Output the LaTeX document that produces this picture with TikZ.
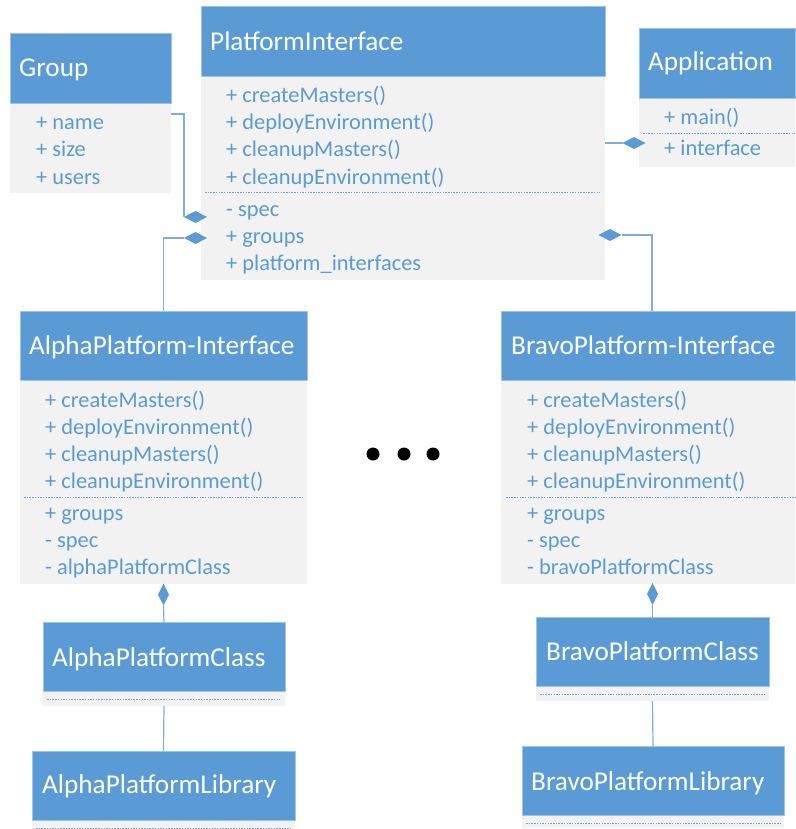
\documentclass[tikz,border=0pt]{standalone}
\usepackage{fontspec}
\setmainfont{Carlito}
\usetikzlibrary{shapes.geometric}
\definecolor{hdrblue}{HTML}{5B9BD5}
\definecolor{hdredge}{HTML}{9DC3E6}
\definecolor{bodygray}{HTML}{F2F2F2}
\definecolor{txtblue}{HTML}{5B9BD5}
\definecolor{lineblue}{HTML}{7EAEDC}
\definecolor{sepblue}{HTML}{6FA6DA}
\tikzset{
  hdr/.style={draw=hdredge, line width=0.8pt, fill=hdrblue, anchor=north west,
    inner sep=0pt, outer sep=0pt},
  bodybox/.style={fill=bodygray, anchor=north west, inner sep=0pt, outer sep=0pt},
  title/.style={anchor=base west, inner sep=0pt, text=white,
    font=\fontsize{27.2}{31}\selectfont},
  member/.style={anchor=base west, inner sep=0pt, text=txtblue,
    font=\fontsize{22.4}{27}\selectfont},
  sepline/.style={draw=sepblue, line width=0.9pt, dash pattern=on 1.5pt off 1.2pt},
  conn/.style={draw=lineblue, line width=1.2pt},
  hdia/.style={diamond, fill=hdrblue, inner sep=0pt, outer sep=0pt,
    minimum width=23pt, minimum height=12pt},
  vdia/.style={diamond, fill=hdrblue, inner sep=0pt, outer sep=0pt,
    minimum width=11pt, minimum height=22pt},
  dot/.style={circle, fill=black, inner sep=0pt, minimum size=13pt}
}
\begin{document}
\begin{tikzpicture}[x=1pt, y=-1pt]
\useasboundingbox (0,0) rectangle (795,829);

% ---------- Group ----------
\node[bodybox, minimum width=161pt, minimum height=90pt] (grpB) at (10,103) {};
\node[hdr, minimum width=161pt, minimum height=70pt] (grpH) at (10,33) {};
\node[title] (grpT) at (19,77) {Group};
\node[member] (grp1) at (36,130) {+ name};
\node[member] (grp2) at (36,157) {+ size};
\node[member] (grp3) at (36,184) {+ users};

% ---------- PlatformInterface ----------
\node[bodybox, minimum width=404pt, minimum height=204pt] (piB) at (201,76) {};
\node[hdr, minimum width=404pt, minimum height=70pt] (piH) at (201,6) {};
\node[title] (piT) at (210,50.5) {PlatformInterface};
\node[member] (pi1) at (226,103) {+ createMasters()};
\node[member] (pi2) at (226,130) {+ deployEnvironment()};
\node[member] (pi3) at (226,157) {+ cleanupMasters()};
\node[member] (pi4) at (226,184) {+ cleanupEnvironment()};
\draw[sepline] (205,192) -- (600,192);
\node[member] (pi5) at (226,216) {- spec};
\node[member] (pi6) at (226,243) {+ groups};
\node[member] (pi7) at (226,270) {+ platform\_interfaces};

% ---------- Application ----------
\node[bodybox, minimum width=156pt, minimum height=69pt] (appB) at (639,98) {};
\node[hdr, minimum width=156pt, minimum height=70pt] (appH) at (639,28) {};
\node[title] (appT) at (648,71) {Application};
\node[member] (app1) at (664,125) {+ main()};
\draw[sepline] (643,133) -- (795,133);
\node[member] (app2) at (664,156) {+ interface};

% ---------- AlphaPlatform-Interface ----------
\node[bodybox, minimum width=287pt, minimum height=204pt] (aiB) at (20,380) {};
\node[hdr, minimum width=287pt, minimum height=69pt] (aiH) at (20,311) {};
\node[title] (aiT) at (29,354) {AlphaPlatform-Interface};
\node[member] (ai1) at (45,407.5) {+ createMasters()};
\node[member] (ai2) at (45,434.5) {+ deployEnvironment()};
\node[member] (ai3) at (45,461.5) {+ cleanupMasters()};
\node[member] (ai4) at (45,488.5) {+ cleanupEnvironment()};
\draw[sepline] (24,497) -- (303,497);
\node[member] (ai5) at (45,520.5) {+ groups};
\node[member] (ai6) at (45,547.5) {- spec};
\node[member] (ai7) at (45,574.5) {- alphaPlatformClass};

% ---------- BravoPlatform-Interface ----------
\node[bodybox, minimum width=294pt, minimum height=204pt] (biB) at (501,380) {};
\node[hdr, minimum width=294pt, minimum height=69pt] (biH) at (501,311) {};
\node[title] (biT) at (511,354) {BravoPlatform-Interface};
\node[member] (bi1) at (527,407.5) {+ createMasters()};
\node[member] (bi2) at (527,434.5) {+ deployEnvironment()};
\node[member] (bi3) at (527,461.5) {+ cleanupMasters()};
\node[member] (bi4) at (527,488.5) {+ cleanupEnvironment()};
\draw[sepline] (506,497) -- (795,497);
\node[member] (bi5) at (527,520.5) {+ groups};
\node[member] (bi6) at (527,547.5) {- spec};
\node[member] (bi7) at (527,574.5) {- bravoPlatformClass};

% ---------- AlphaPlatformClass / AlphaPlatformLibrary ----------
\node[bodybox, minimum width=242pt, minimum height=15pt] (acB) at (43,691) {};
\node[hdr, minimum width=242pt, minimum height=69pt] (acH) at (43,622) {};
\node[title] (acT) at (52,666) {AlphaPlatformClass};
\draw[sepline] (47,699) -- (280,699);

\node[bodybox, minimum width=263pt, minimum height=12pt] (alB) at (32,820) {};
\node[hdr, minimum width=263pt, minimum height=69pt] (alH) at (32,751) {};
\node[title] (alT) at (42,793) {AlphaPlatformLibrary};
\draw[sepline] (36,828) -- (291,828);

% ---------- BravoPlatformClass / BravoPlatformLibrary ----------
\node[bodybox, minimum width=233pt, minimum height=15pt] (bcB) at (536,686) {};
\node[hdr, minimum width=233pt, minimum height=69pt] (bcH) at (536,617) {};
\node[title] (bcT) at (546,660) {BravoPlatformClass};
\draw[sepline] (540,694) -- (765,694);

\node[bodybox, minimum width=262pt, minimum height=13pt] (blB) at (522,815) {};
\node[hdr, minimum width=262pt, minimum height=69pt] (blH) at (522,746) {};
\node[title] (blT) at (531,790) {BravoPlatformLibrary};
\draw[sepline] (526,823) -- (780,823);

% ---------- composition diamonds ----------
\node[hdia] (dGrp) at (195.5,217) {};
\node[hdia] (dAlpha) at (195.5,238) {};
\node[hdia] (dApp) at (634,143) {};
\node[hdia] (dBravo) at (610,235) {};
\node[vdia] (dAC) at (163.5,594.5) {};
\node[vdia] (dBC) at (652.5,594) {};

% ---------- connectors ----------
\draw[conn] (grpB.east |- 0,114) -| (dGrp.west);
\draw[conn] (dAlpha.west) -| (aiH.north);
\draw[conn] (piB.east |- dApp) -- (dApp.west);
\draw[conn] (dBravo.east) -| ([xshift=4pt]biH.north);
\draw[conn] (dAC.south) -- (acH.north);
\draw[conn] (acB.south) -- (alH.north);
\draw[conn] (dBC.south) -- (bcH.north);
\draw[conn] (bcB.south) -- (blH.north);

% ---------- ellipsis ----------
\node[dot] (e1) at (373,454) {};
\node[dot] (e2) at (404,454) {};
\node[dot] (e3) at (433,454) {};
\end{tikzpicture}
\end{document}
